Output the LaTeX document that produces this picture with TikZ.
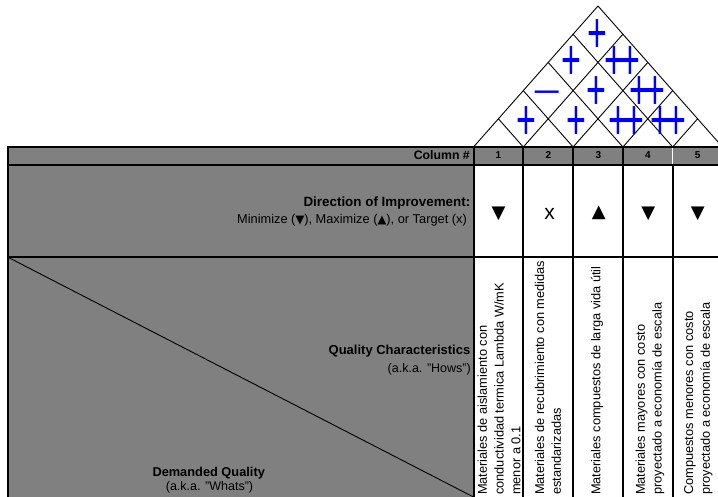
\documentclass[tikz,border=0pt]{standalone}
\usepackage{fontspec}
\usepackage{graphicx}
\setmainfont{Liberation Sans}
\newfontfamily\symfont{DejaVu Sans}
\definecolor{cellgray}{RGB}{128,128,128}
\definecolor{relblue}{RGB}{0,0,255}
\newcommand\fsz[1]{\fontsize{#1}{#1}\selectfont}
% tall relationship marks of the roof, side bearings trimmed
\newcommand\relone{\scalebox{1}[1.68]{\kern-1.9pt+\kern-1.9pt}}
\newcommand\reltwo{\scalebox{1}[1.68]{\kern-1.9pt+\kern-3.8pt+\kern-1.9pt}}
\newcommand\relneg{\scalebox{1.45}[1]{\kern-1.9pt−\kern-1.9pt}}
% small direction glyphs inside running text
\newcommand\smalldown{{\symfont\fsz{11.5}\raisebox{0.3pt}{▼}}}
\newcommand\smallup{{\symfont\fsz{11.5}\raisebox{0.3pt}{▲}}}

\begin{document}
\begin{tikzpicture}[x=1pt,y=-1pt,
  tablerule/.style={line width=2pt},
  roofline/.style={line width=0.9pt},
  lbl/.style={inner sep=0pt, text=black},
  boldlbl/.style={lbl, font=\fsz{13}\bfseries},
  plainlbl/.style={lbl, font=\fsz{12.5}},
  numlbl/.style={lbl, font=\fsz{10}\bfseries},
  hdr/.style={lbl, rotate=90, anchor=west, align=left, font=\fontsize{12.8}{16.7}\selectfont},
  rel/.style={inner sep=0pt, text=relblue, font=\fsz{34}, anchor=base},
  dirmark/.style={lbl, font=\symfont\fsz{18}},
]
\useasboundingbox (0,0) rectangle (718,496);
\fill[white] (0,0) rectangle (718,496);

% shaded header cells
\fill[cellgray] (7.5,147) rectangle (473.5,500);
\fill[cellgray] (473.5,147) rectangle (722.5,164.5);

% correlation roof: lines rising from every column boundary
\foreach \i in {0,...,5} {
  \pgfmathsetmacro\xa{473.5+49.8*\i}
  \draw[roofline] (\xa,147) -- ++({24.9*(5-\i)},{-28.2*(5-\i)});
  \draw[roofline] (\xa,147) -- ++({-24.9*\i},{-28.2*\i});
}

% roof relationship marks
\node[rel] (r15) at (597.3,52) {\relone};
\node[rel] (r14) at (571.7,79.5) {\relone};
\node[rel] (r25) at (622.3,79.5) {\reltwo};
\node[rel] (r13) at (546.7,103.5) {\relneg};
\node[rel] (r24) at (596.7,109.5) {\relone};
\node[rel] (r35) at (647.8,109.5) {\reltwo};
\node[rel] (r12) at (526.7,139.5) {\relone};
\node[rel] (r23) at (576.7,139.5) {\relone};
\node[rel] (r34) at (626.7,139.5) {\reltwo};
\node[rel] (r45) at (668.3,139.5) {\reltwo};

% table rules
\draw[tablerule] (6.5,147) -- (723,147);
\draw[tablerule] (6.5,164.5) -- (723,164.5);
\draw[tablerule] (6.5,257) -- (723,257);
\foreach \x in {7.5,473.5,523.3,573.3,623.3}
  \draw[tablerule] (\x,146) -- (\x,500);
\draw[tablerule] (672.7,164.5) -- (672.7,500);
\draw[white, line width=1.5pt] (672.7,148) -- (672.7,163.5);

% split of the corner cell
\draw[roofline] (7.5,257) -- (473.5,497);

% column numbers
\node[boldlbl, font=\fsz{12.3}\bfseries, anchor=east] (colnum) at (470,155.5) {Column \#};
\node[numlbl] (n1) at (498.4,155.5) {1};
\node[numlbl] (n2) at (548.3,155.5) {2};
\node[numlbl] (n3) at (598.3,155.5) {3};
\node[numlbl] (n4) at (648.0,155.5) {4};
\node[numlbl] (n5) at (697.6,155.5) {5};

% direction of improvement
\node[boldlbl, font=\fsz{13.4}\bfseries, anchor=east] (dirA) at (470.5,202.7) {Direction of Improvement:};
\node[plainlbl, font=\fsz{12.8}, anchor=east] (dirB) at (467,220) {Minimize (\smalldown), Maximize (\smallup), or Target (x)};
\node[dirmark] (m1) at (498.6,213.5) {▼};
\node[lbl, font=\fsz{21}] (m2) at (549.5,214) {x};
\node[dirmark] (m3) at (598.8,213) {▲};
\node[dirmark] (m4) at (648.3,213.5) {▼};
\node[dirmark] (m5) at (697.8,213.5) {▼};

% corner cell labels
\node[boldlbl, anchor=east] (hows) at (470.5,350.7) {Quality Characteristics};
\node[plainlbl, anchor=east] (howsB) at (471,369) {(a.k.a. "Hows")};
\node[boldlbl, font=\fsz{12.8}\bfseries] (whats) at (208.7,472.7) {Demanded Quality};
\node[plainlbl] (whatsB) at (209.5,487.3) {(a.k.a. "Whats")};

% quality characteristics
\node[hdr] (h1) at (499.0,495) {Materiales de aislamiento con\\conductividad termica Lambda W/mK\\menor a 0.1};
\node[hdr] (h2) at (548.0,495) {Materiales de recubrimiento con medidas\\estandarizadas};
\node[hdr] (h3) at (597.0,495) {Materiales compuestos de larga vida útil};
\node[hdr] (h4) at (650.0,495) {Materiales mayores con costo\\proyectado a economía de escala};
\node[hdr] (h5) at (698.3,495) {Compuestos menores con costo\\proyectado a economía de escala};
\end{tikzpicture}
\end{document}
